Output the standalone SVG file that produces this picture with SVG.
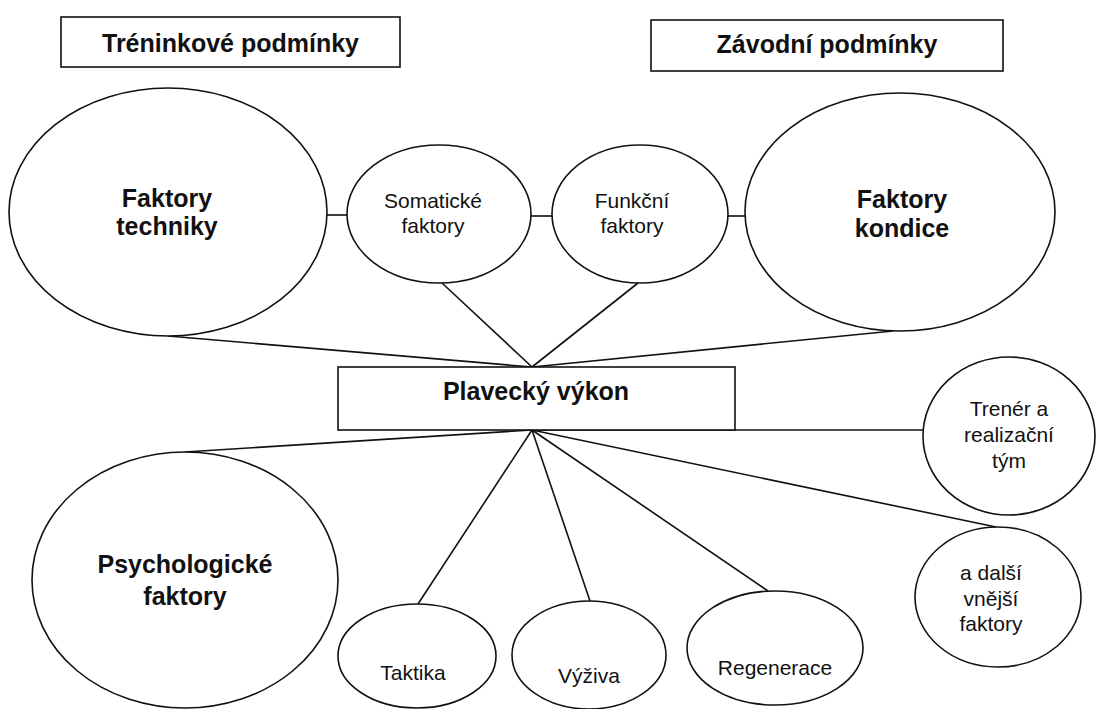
<svg xmlns="http://www.w3.org/2000/svg" width="1097" height="709" viewBox="0 0 1097 709">
  <style>
    .shape { fill: #ffffff; stroke: #111111; stroke-width: 1.6; }
    .link { stroke: #111111; stroke-width: 1.6; fill: none; }
    .bold { font-family: "Liberation Sans", Arial, sans-serif; font-weight: bold; font-size: 25px; fill: #111111; text-anchor: middle; }
    .reg { font-family: "Liberation Sans", Arial, sans-serif; font-size: 21px; fill: #111111; text-anchor: middle; }
  </style>
  <rect width="1097" height="709" fill="#ffffff"/>

  <!-- connectors -->
  <g id="connectors">
    <line class="link" x1="326" y1="215" x2="347" y2="215"/>
    <line class="link" x1="531" y1="216" x2="552" y2="216"/>
    <line class="link" x1="727" y1="216" x2="745" y2="216"/>
    <line class="link" x1="168" y1="336" x2="532" y2="367"/>
    <line class="link" x1="442" y1="283" x2="532" y2="367"/>
    <line class="link" x1="638" y1="283" x2="532" y2="367"/>
    <line class="link" x1="893" y1="331" x2="532" y2="367"/>
    <line class="link" x1="532" y1="430" x2="923" y2="430"/>
    <line class="link" x1="532" y1="430" x2="185" y2="452"/>
    <line class="link" x1="532" y1="430" x2="418" y2="604"/>
    <line class="link" x1="532" y1="430" x2="590" y2="601"/>
    <line class="link" x1="532" y1="430" x2="768" y2="591"/>
    <line class="link" x1="532" y1="430" x2="996" y2="527"/>
  </g>

  <g id="treninkove-podminky">
    <rect class="shape" x="61" y="17" width="339" height="50"/>
    <text class="bold" x="230.5" y="52">Tréninkové podmínky</text>
  </g>

  <g id="zavodni-podminky">
    <rect class="shape" x="651" y="20" width="352" height="51"/>
    <text class="bold" x="827" y="53">Závodní podmínky</text>
  </g>

  <g id="faktory-techniky">
    <ellipse class="shape" cx="168" cy="212" rx="159" ry="124"/>
    <text class="bold" x="167" y="207">Faktory</text>
    <text class="bold" x="167" y="235">techniky</text>
  </g>

  <g id="somaticke-faktory">
    <ellipse class="shape" cx="439" cy="214" rx="92" ry="69"/>
    <text class="reg" x="433" y="208">Somatické</text>
    <text class="reg" x="433" y="233">faktory</text>
  </g>

  <g id="funkcni-faktory">
    <ellipse class="shape" cx="640" cy="214" rx="88" ry="69"/>
    <text class="reg" x="632" y="208">Funkční</text>
    <text class="reg" x="632" y="233">faktory</text>
  </g>

  <g id="faktory-kondice">
    <ellipse class="shape" cx="900" cy="212" rx="155" ry="119"/>
    <text class="bold" x="902" y="208">Faktory</text>
    <text class="bold" x="902" y="237">kondice</text>
  </g>

  <g id="plavecky-vykon">
    <rect class="shape" x="338" y="367" width="397" height="63"/>
    <text class="bold" x="536" y="400">Plavecký výkon</text>
  </g>

  <g id="trener">
    <ellipse class="shape" cx="1009" cy="436" rx="86" ry="79"/>
    <text class="reg" x="1009" y="416">Trenér a</text>
    <text class="reg" x="1009" y="442">realizační</text>
    <text class="reg" x="1009" y="468">tým</text>
  </g>

  <g id="psychologicke-faktory">
    <ellipse class="shape" cx="185" cy="580" rx="153" ry="128"/>
    <text class="bold" x="185" y="573">Psychologické</text>
    <text class="bold" x="185" y="605">faktory</text>
  </g>

  <g id="taktika">
    <ellipse class="shape" cx="417" cy="656" rx="79" ry="52"/>
    <text class="reg" x="413" y="680">Taktika</text>
  </g>

  <g id="vyziva">
    <ellipse class="shape" cx="589" cy="655" rx="77" ry="54"/>
    <text class="reg" x="589" y="683">Výživa</text>
  </g>

  <g id="regenerace">
    <ellipse class="shape" cx="775" cy="648" rx="88" ry="57"/>
    <text class="reg" x="775" y="675">Regenerace</text>
  </g>

  <g id="dalsi-faktory">
    <ellipse class="shape" cx="998" cy="597" rx="83" ry="70"/>
    <text class="reg" x="991" y="580">a další</text>
    <text class="reg" x="991" y="606">vnější</text>
    <text class="reg" x="991" y="631">faktory</text>
  </g>
</svg>
